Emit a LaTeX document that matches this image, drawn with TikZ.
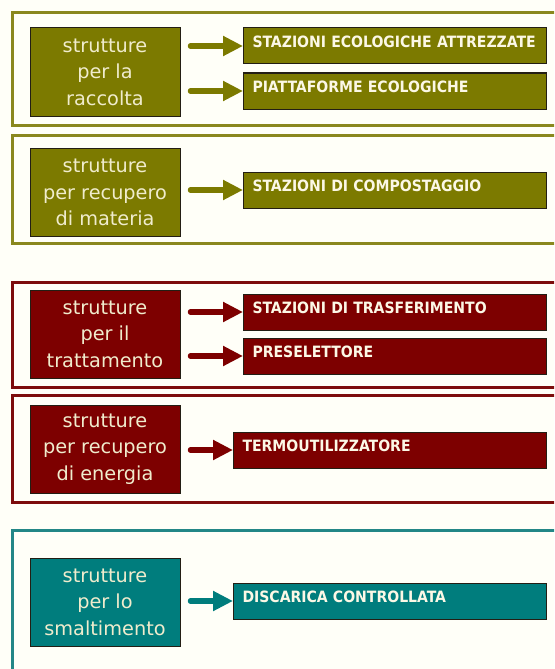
\documentclass[tikz,border=0pt]{standalone}
\usepackage{fontspec}
\setmainfont{DejaVu Sans}
\newfontfamily\boxfont{DejaVu Sans Condensed}
\usetikzlibrary{arrows.meta}
\definecolor{bgc}{RGB}{255,255,248}
\definecolor{oliv}{RGB}{124,122,0}
\definecolor{olivF}{RGB}{138,136,30}
\definecolor{maro}{RGB}{125,0,0}
\definecolor{maroF}{RGB}{125,12,12}
\definecolor{teal2}{RGB}{0,125,125}
\definecolor{tealF}{RGB}{35,135,135}
\definecolor{txtL}{RGB}{240,236,205}
\definecolor{txtR}{RGB}{252,248,230}
\definecolor{edge}{RGB}{35,30,20}
\begin{document}
\begin{tikzpicture}[x=1pt,y=-1pt,
  lbox/.style={draw=edge, line width=1pt, minimum width=150pt, minimum height=88pt,
    align=center, inner sep=0pt, text=txtL, font=\fontsize{19.3}{26.5}\selectfont},
  rbox/.style={draw=edge, line width=1pt, minimum height=36pt, inner xsep=9pt, inner ysep=0pt,
    align=left, text height=11.5pt, text depth=9pt, anchor=west, text=txtR,
    font=\boxfont\bfseries\fontsize{15.6}{18}\selectfont},
  arr/.style={line width=5.5pt, line cap=round, -{Triangle[length=20pt,width=19pt]}},
  grpframe/.style={line width=3pt}
]
\useasboundingbox (0,0) rectangle (554,669);
\fill[bgc] (0,0) rectangle (554,669);
\clip (0,0) rectangle (554,669);

% group frames
\draw[grpframe, olivF] (12,13) rectangle (575,125);
\draw[grpframe, olivF] (12,135) rectangle (575,243);
\draw[grpframe, maroF] (12,282) rectangle (575,387);
\draw[grpframe, maroF] (12,395) rectangle (575,502);
\draw[grpframe, tealF] (12,530) rectangle (575,690);

% group 1
\node[lbox, fill=oliv] (L1) at (105,72) {strutture\\per la\\raccolta};
\node[rbox, fill=oliv, text width=285pt] (R1a) at (243,46) {STAZIONI ECOLOGICHE ATTREZZATE};
\node[rbox, fill=oliv, text width=285pt] (R1b) at (243,91) {PIATTAFORME ECOLOGICHE};
\draw[arr, oliv] ([xshift=10pt]L1.east |- R1a.west) -- (R1a.west);
\draw[arr, oliv] ([xshift=10pt]L1.east |- R1b.west) -- (R1b.west);

% group 2
\node[lbox, fill=oliv] (L2) at (105,192.5) {strutture\\per recupero\\di materia};
\node[rbox, fill=oliv, text width=285pt] (R2) at (243,190) {STAZIONI DI COMPOSTAGGIO};
\draw[arr, oliv] ([xshift=10pt]L2.east |- R2.west) -- (R2.west);

% group 3
\node[lbox, fill=maro] (L3) at (105,334) {strutture\\per il\\trattamento};
\node[rbox, fill=maro, text width=285pt] (R3a) at (243,312) {STAZIONI DI TRASFERIMENTO};
\node[rbox, fill=maro, text width=285pt] (R3b) at (243,356) {PRESELETTORE};
\draw[arr, maro] ([xshift=10pt]L3.east |- R3a.west) -- (R3a.west);
\draw[arr, maro] ([xshift=10pt]L3.east |- R3b.west) -- (R3b.west);

% group 4
\node[lbox, fill=maro] (L4) at (105,449) {strutture\\per recupero\\di energia};
\node[rbox, fill=maro, text width=295pt] (R4) at (233,450) {TERMOUTILIZZATORE};
\draw[arr, maro] ([xshift=10pt]L4.east |- R4.west) -- (R4.west);

% group 5
\node[lbox, fill=teal2] (L5) at (105,602) {strutture\\per lo\\smaltimento};
\node[rbox, fill=teal2, text width=295pt] (R5) at (233,601) {DISCARICA CONTROLLATA};
\draw[arr, teal2] ([xshift=10pt]L5.east |- R5.west) -- (R5.west);
\end{tikzpicture}
\end{document}
